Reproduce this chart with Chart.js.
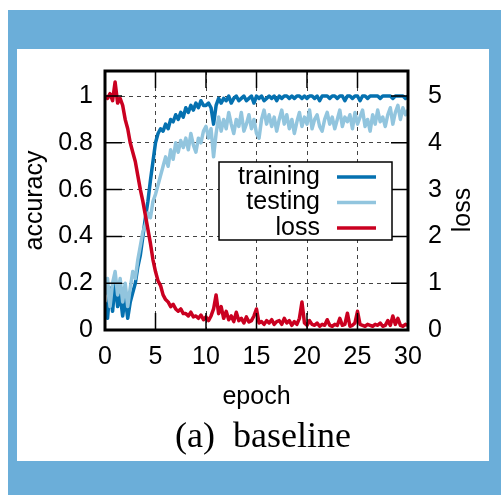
<!DOCTYPE html>
<html>
<head>
<meta charset="utf-8">
<script src="https://cdn.jsdelivr.net/npm/chart.js@4.4.1/dist/chart.umd.min.js"></script>
<style>
  html, body { margin: 0; padding: 0; background: #fff; }
  #frame { position: absolute; left: 8px; top: 10px; width: 493px; height: 485px; background: #6baed9; }
  #paper { position: absolute; left: 17px; top: 49px; width: 472px; height: 412px; background: #fff; }
  #wrap { position: absolute; left: 0; top: 0; width: 501px; height: 495px; }
</style>
</head>
<body>
<div id="frame"></div>
<div id="paper"></div>
<div id="wrap"><canvas id="curvas"></canvas></div>
<script>
// one value every 0.25 epoch, epoch 0 .. 30
var step = 0.25;

var training = [
  0.12, 0.05, 0.18, 0.08,
  0.20, 0.10, 0.15, 0.06,
  0.14, 0.05, 0.12, 0.16,
  0.20, 0.27, 0.32, 0.40,
  0.48, 0.55, 0.64, 0.72,
  0.80, 0.84, 0.86, 0.85,
  0.88, 0.86, 0.90, 0.89,
  0.92, 0.90, 0.93, 0.91,
  0.95, 0.93, 0.96, 0.94,
  0.97, 0.95, 0.98, 0.96,
  0.96, 0.97, 0.95, 0.88,
  0.96, 0.99, 0.97, 0.99,
  0.98, 1.00, 0.97, 0.99,
  1.00, 0.98, 0.99, 1.00,
  0.98, 0.99, 1.00, 0.97,
  1.00, 0.99, 1.00, 0.98,
  0.99, 1.00, 0.99, 1.00,
  0.98, 1.00, 0.99, 1.00,
  1.00, 0.99, 1.00, 0.99,
  1.00, 1.00, 0.99, 1.00,
  0.99, 1.00, 1.00, 0.99,
  1.00, 0.98, 1.00, 1.00,
  1.00, 0.99, 1.00, 1.00,
  0.99, 1.00, 1.00, 0.98,
  1.00, 1.00, 0.99, 1.00,
  1.00, 0.98, 1.00, 1.00,
  0.99, 1.00, 1.00, 1.00,
  1.00, 0.99, 1.00, 1.00,
  1.00, 1.00, 0.99, 1.00,
  1.00, 1.00, 1.00, 0.99,
  1.00
];

var testing = [
  0.15, 0.22, 0.10, 0.20,
  0.25, 0.15, 0.22, 0.12,
  0.20, 0.10, 0.18, 0.25,
  0.22, 0.30, 0.36, 0.42,
  0.45, 0.50, 0.48, 0.55,
  0.58, 0.62, 0.66, 0.70,
  0.74, 0.70, 0.77, 0.73,
  0.80, 0.76, 0.81, 0.78,
  0.82, 0.77, 0.84, 0.79,
  0.76, 0.82, 0.80, 0.85,
  0.87, 0.82, 0.86, 0.74,
  0.84, 0.91, 0.85, 0.90,
  0.86, 0.93, 0.88, 0.84,
  0.90, 0.87, 0.93, 0.85,
  0.88, 0.92, 0.86, 0.90,
  0.84, 0.82, 0.90, 0.94,
  0.88, 0.92, 0.87, 0.91,
  0.85, 0.90, 0.94, 0.88,
  0.92, 0.86, 0.90, 0.84,
  0.89, 0.93, 0.87, 0.91,
  0.88, 0.94, 0.86, 0.90,
  0.92, 0.87, 0.85, 0.90,
  0.93, 0.88, 0.91, 0.86,
  0.90, 0.94, 0.87, 0.91,
  0.89, 0.92, 0.86, 0.93,
  0.88, 0.91, 0.94, 0.87,
  0.90, 0.85, 0.92, 0.88,
  0.94, 0.89, 0.91, 0.87,
  0.92, 0.95, 0.88, 0.93,
  0.96, 0.90, 0.95, 0.92,
  0.94
];

var loss = [
  5.00, 4.95, 5.05, 4.90,
  5.30, 4.85, 4.95, 4.80,
  4.50, 4.30, 4.00, 3.80,
  3.60, 3.30, 3.00, 2.75,
  2.45, 2.15, 1.85, 1.50,
  1.25, 1.05, 0.95, 0.75,
  0.65, 0.60, 0.50, 0.55,
  0.45, 0.40, 0.45, 0.35,
  0.35, 0.30, 0.38, 0.28,
  0.30, 0.25, 0.32, 0.22,
  0.28, 0.20, 0.30, 0.45,
  0.75, 0.35, 0.50, 0.25,
  0.40, 0.22, 0.30, 0.18,
  0.38, 0.20, 0.25, 0.15,
  0.28, 0.17, 0.20, 0.30,
  0.45, 0.15, 0.18, 0.12,
  0.20, 0.15, 0.22, 0.12,
  0.18, 0.20, 0.12, 0.25,
  0.15, 0.20, 0.10, 0.18,
  0.12, 0.25, 0.60, 0.15,
  0.10, 0.20, 0.12, 0.10,
  0.15, 0.08, 0.12, 0.10,
  0.22, 0.10, 0.08, 0.12,
  0.10, 0.25, 0.10, 0.12,
  0.36, 0.08, 0.10, 0.15,
  0.40, 0.12, 0.10, 0.08,
  0.12, 0.10, 0.08, 0.12,
  0.10, 0.15, 0.08, 0.10,
  0.20, 0.10, 0.30, 0.12,
  0.25, 0.10, 0.08, 0.12,
  0.10
];

var seriesNames = ["training", "testing", "loss"];
var seriesColors = ["#0571b0", "#92c5de", "#ca0020"];

function pts(arr) {
    return arr.map(function(v, i) { return { x: i * step, y: v }; });
}

var sans = "'Liberation Sans', Arial, Helvetica, sans-serif";

// frame, inward tick marks, legend box, y2 label and caption
var extras = {
    id: 'extras',
    afterDatasetsDraw: function(chart) {
        var ctx = chart.ctx;
        var a = chart.chartArea;
        var sx = chart.scales.x, sy = chart.scales.y, sy2 = chart.scales.y1;
        var tl = 17;
        ctx.save();
        ctx.strokeStyle = '#000';
        ctx.lineWidth = 1.5;
        ctx.beginPath();
        sx.ticks.forEach(function(t) {
            var px = sx.getPixelForValue(t.value);
            ctx.moveTo(px, a.top); ctx.lineTo(px, a.top + tl);
            ctx.moveTo(px, a.bottom); ctx.lineTo(px, a.bottom - tl);
        });
        sy.ticks.forEach(function(t) {
            var py = sy.getPixelForValue(t.value);
            ctx.moveTo(a.left, py); ctx.lineTo(a.left + tl, py);
        });
        sy2.ticks.forEach(function(t) {
            var py = sy2.getPixelForValue(t.value);
            ctx.moveTo(a.right, py); ctx.lineTo(a.right - tl, py);
        });
        ctx.stroke();

        // legend
        var bx = 219, by = 162, bw = 173, bh = 78;
        ctx.fillStyle = '#fff';
        ctx.fillRect(bx, by, bw, bh);
        ctx.lineWidth = 1.5;
        ctx.strokeRect(bx, by, bw, bh);
        ctx.font = '25px ' + sans;
        ctx.textAlign = 'right';
        ctx.textBaseline = 'middle';
        seriesNames.forEach(function(n, i) {
            var ly = 177 + i * 25.5;
            ctx.fillStyle = '#000';
            ctx.fillText(n, 320, ly);
            ctx.strokeStyle = seriesColors[i];
            ctx.lineWidth = 3.5;
            ctx.beginPath();
            ctx.moveTo(337, ly); ctx.lineTo(376, ly);
            ctx.stroke();
        });

        // frame
        ctx.strokeStyle = '#000';
        ctx.lineWidth = 3;
        ctx.strokeRect(a.left, a.top, a.right - a.left, a.bottom - a.top);

        // y2 title
        ctx.save();
        ctx.translate(463, 210);
        ctx.rotate(-Math.PI / 2);
        ctx.textAlign = 'center';
        ctx.fillStyle = '#000';
        ctx.fillText('loss', 0, 0);
        ctx.restore();

        // caption
        ctx.font = "36px 'Liberation Serif', 'Times New Roman', serif";
        ctx.textAlign = 'left';
        ctx.textBaseline = 'alphabetic';
        ctx.fillStyle = '#000';
        ctx.fillText('(a)', 175, 447);
        ctx.fillText('baseline', 233, 447);
        ctx.restore();
    }
};

var grid = {
    color: '#444',
    lineWidth: 1,
    tickLength: 0,
    drawTicks: false
};

var curvas = document.getElementById("curvas");
var myLineChart = new Chart(curvas, {
    type: 'line',
    data: {
        datasets: [{
            label: seriesNames[0],
            data: pts(training),
            borderColor: seriesColors[0],
            yAxisID: 'y',
            order: 2
        }, {
            label: seriesNames[1],
            data: pts(testing),
            borderColor: seriesColors[1],
            yAxisID: 'y',
            order: 1
        }, {
            label: seriesNames[2],
            data: pts(loss),
            borderColor: seriesColors[2],
            yAxisID: 'y1',
            order: 0
        }]
    },
    options: {
        responsive: true,
        maintainAspectRatio: false,
        animation: false,
        events: [],
        layout: { padding: { top: 71, left: 0, right: 0, bottom: 0 } },
        elements: {
            line: { borderWidth: 3.5, tension: 0, fill: false, borderJoinStyle: 'round' },
            point: { radius: 0 }
        },
        plugins: {
            legend: { display: false },
            tooltip: { enabled: false },
            title: { display: false }
        },
        scales: {
            x: {
                type: 'linear',
                min: 0, max: 30,
                border: { display: false, dash: [4, 4] },
                grid: grid,
                ticks: { stepSize: 5, padding: 12, color: '#000', font: { family: sans, size: 25 }, maxRotation: 0 },
                title: { display: true, text: 'epoch', color: '#000', font: { family: sans, size: 25 }, padding: { bottom: 83 } },
                afterFit: function(s) { s.height = 165; }
            },
            y: {
                position: 'left',
                min: 0, max: 1.107,
                border: { display: false, dash: [4, 4] },
                grid: grid,
                ticks: {
                    stepSize: 0.2, includeBounds: false, padding: 12, color: '#000',
                    font: { family: sans, size: 25 },
                    callback: function(v) { return String(+v.toFixed(1)); }
                },
                title: { display: true, text: 'accuracy', color: '#000', font: { family: sans, size: 25 }, padding: { top: 20 } },
                afterFit: function(s) { s.width = 105; }
            },
            y1: {
                position: 'right',
                min: 0, max: 5.535,
                border: { display: false },
                grid: { display: false, drawTicks: false },
                ticks: { stepSize: 1, includeBounds: false, padding: 20, color: '#000', font: { family: sans, size: 25 } },
                afterFit: function(s) { s.width = 93; }
            }
        }
    },
    plugins: [extras]
});
</script>
</body>
</html>
